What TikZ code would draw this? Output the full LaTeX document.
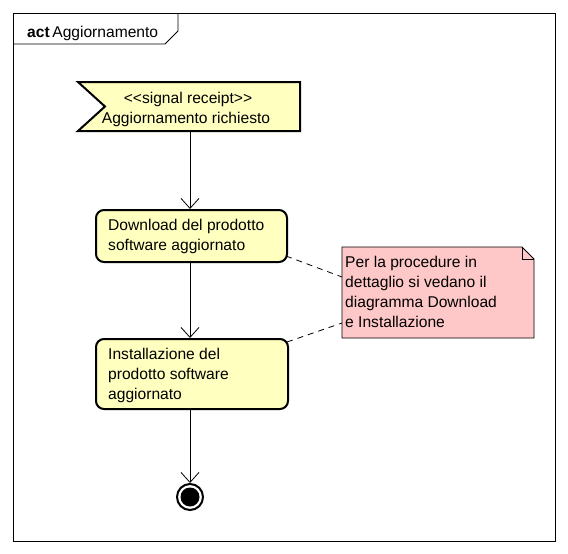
\documentclass[tikz,border=0pt]{standalone}
\usepackage{fontspec}
\setmainfont{Liberation Sans}
\usetikzlibrary{arrows.meta}
\definecolor{actfill}{RGB}{255,255,192}
\definecolor{notefill}{RGB}{255,200,200}
\tikzset{
  txt/.style={font=\fontsize{15.6}{20}\selectfont, inner sep=0pt, align=left},
  actbox/.style={draw, line width=2pt, rounded corners=8pt, fill=actfill},
  flow/.style={draw, line width=0.8pt, -{Straight Barb[length=10pt,width=18pt,line width=0.8pt]}},
  anchorline/.style={draw, line width=0.8pt, dash pattern=on 6pt off 5pt},
}
\begin{document}
\begin{tikzpicture}[x=1pt,y=-1pt]
\useasboundingbox (0,0) rectangle (568,554);
\fill[white] (0,0) rectangle (568,554);
% frame
\draw[line width=0.8pt] (13,13) rectangle (555,541);
\draw[line width=0.8pt] (13,44) -- (165,44) -- (178,31) -- (178,13);
\node[txt, anchor=base west] (title) at (27,37) {\textbf{act}\,Aggiornamento};
% signal receipt
\draw[line width=2pt, fill=actfill] (78,82) -- (300,82) -- (300,131) -- (78,131) -- (105,106.5) -- cycle;
\node[txt, align=center, anchor=center] (sig) at (186,109.5) {\hspace*{4pt}<{}<signal receipt>{}>\\Aggiornamento richiesto};
\coordinate (sigb) at (190,131);
% download
\node[actbox, minimum width=191pt, minimum height=52pt, anchor=north west] (dl) at (95,209) {};
\node[txt, anchor=north west] (dlt) at (108,219) {Download del prodotto\\software aggiornato};
% install
\node[actbox, minimum width=192pt, minimum height=70pt, anchor=north west] (inst) at (95,338) {};
\node[txt, anchor=north west] (instt) at (108,348) {Installazione del\\prodotto software\\aggiornato};
% final
\node[circle, draw, line width=2pt, minimum size=26pt, inner sep=0pt] (fin) at (190,497) {};
\fill (fin.center) circle (9.5pt);
% note
\draw[line width=0.8pt, fill=notefill] (342,247) -- (522,247) -- (534,259) -- (534,338) -- (342,338) -- cycle;
\draw[line width=0.8pt] (522,247) -- (522,259) -- (534,259);
\node[txt, anchor=north west] (note) at (345,256) {Per la procedure in\\dettaglio si vedano il\\diagramma Download\\e Installazione};
\coordinate (noteA) at (342,277);
\coordinate (noteB) at (342,323);
% connectors
\draw[flow] (sigb) -- (dl.north -| sigb);
\draw[flow] (dl.south -| sigb) -- (inst.north -| sigb);
\draw[flow] (inst.south -| sigb) -- (fin.north);
\draw[anchorline] (286,256) -- (noteA);
\draw[anchorline] (287,342) -- (noteB);
\end{tikzpicture}
\end{document}
